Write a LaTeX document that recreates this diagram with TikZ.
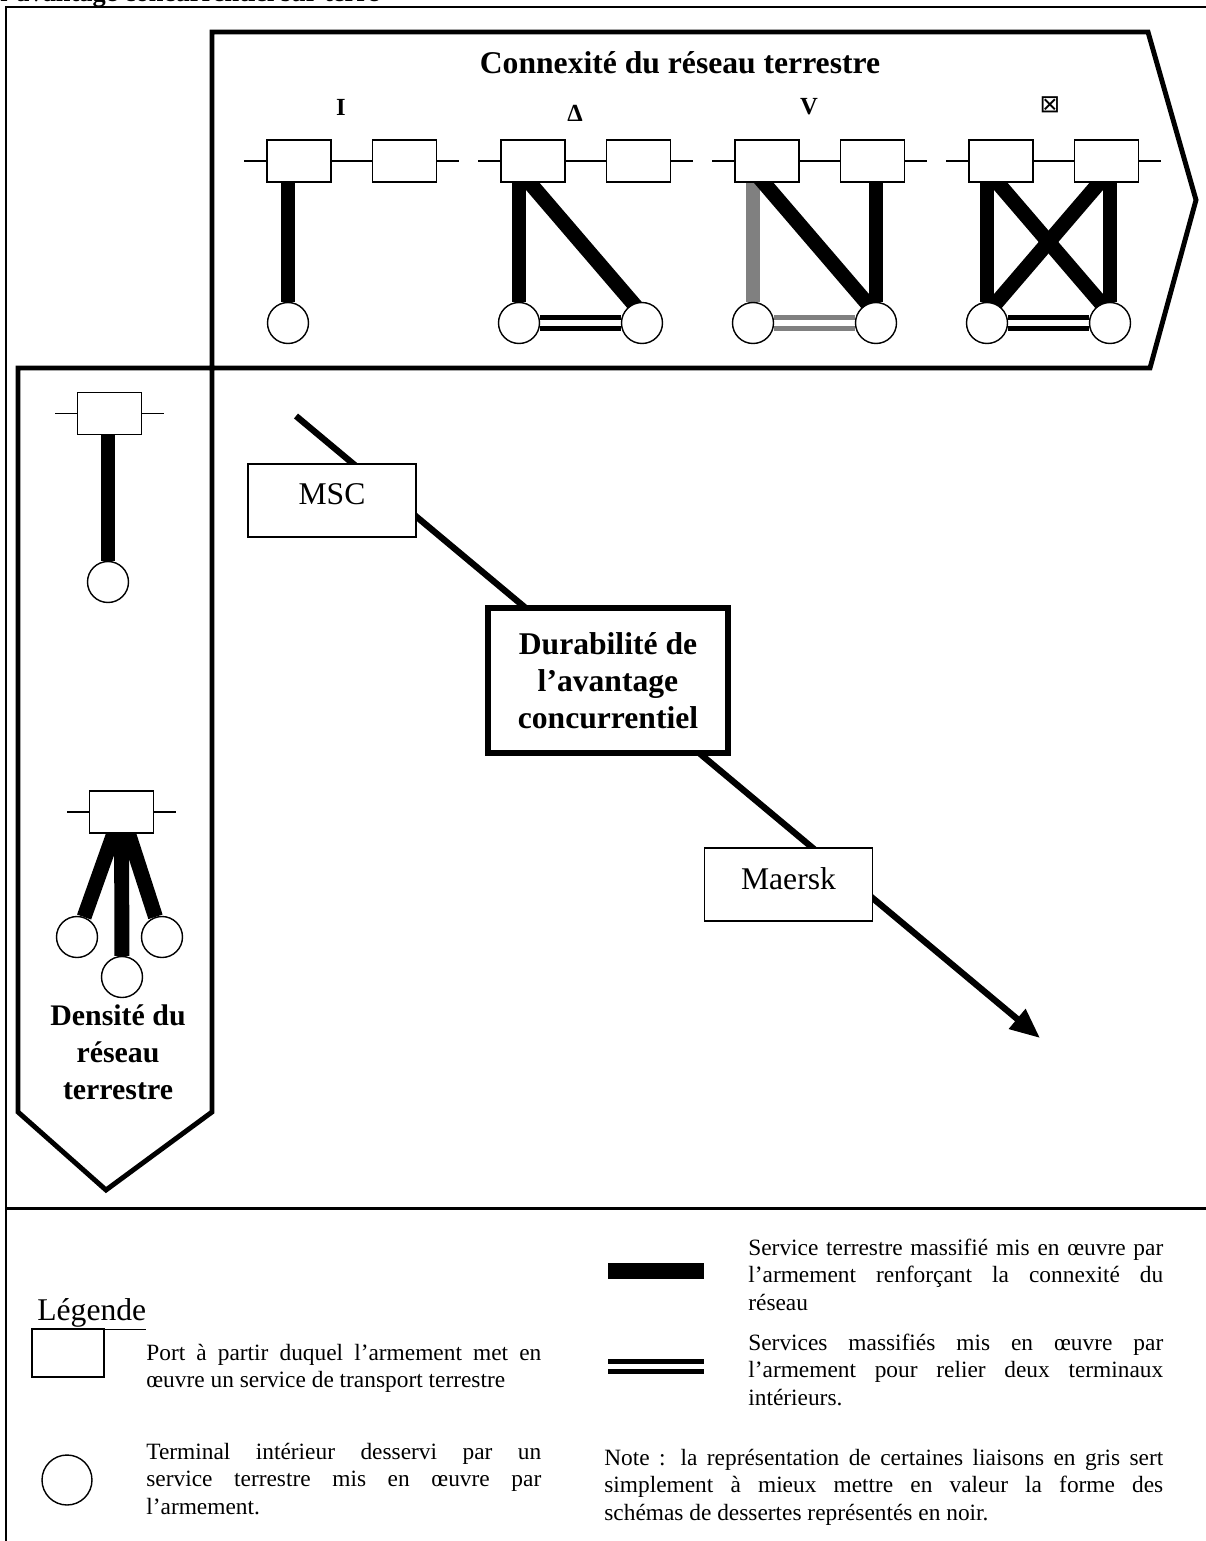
\documentclass[tikz,border=0pt]{standalone}
\usepackage{fontspec}
\setmainfont{Liberation Serif}
\newfontfamily\symbfont{DejaVu Sans}
\usepackage{tikz}
\usetikzlibrary{arrows.meta,positioning,backgrounds,calc}
\definecolor{linkgrey}{RGB}{128,128,128}
\hyphenpenalty=10000

\tikzset{
  port/.style={draw, fill=white, line width=0.8pt, minimum width=1.28cm, minimum height=0.84cm, inner sep=0pt},
  term/.style={circle, draw, fill=white, line width=0.8pt, minimum size=0.82cm, inner sep=0pt},
  rail/.style={line width=0.8pt},
  service/.style={line width=8.5pt},
  link/.style={line width=2.6pt, double=white, double distance=3.4pt},
  banner/.style={line width=2.8pt, line join=miter},
  carrier/.style={draw, fill=white, line width=0.8pt, minimum width=3.36cm, minimum height=1.46cm, inner sep=0pt, text depth=7pt, font=\fontsize{18}{21}\selectfont},
  shape label/.style={font=\bfseries\fontsize{14}{17}\selectfont},
  note/.style={anchor=north west, inner sep=0pt, align=justify, font=\fontsize{13.3}{15.6}\selectfont},
}

\begin{document}
\begin{tikzpicture}[x=0.02cm, y=-0.02cm]
\useasboundingbox (0,0) rectangle (1206,1541);
% caption line, cut at the top of the page
\node[anchor=base west, inner sep=0pt, font=\bfseries\fontsize{15}{18}\selectfont] (caption) at (0,2) {l’avantage concurrentiel sur terre};
% outer frame
\draw[line width=0.9pt] (1206,7) -- (6,7) -- (6,1541);
\draw[line width=1.7pt] (6,1208) -- (1206,1208);
% the two banners
\draw[banner] (212,32) -- (1148,32) -- (1196,200) -- (1150,368) -- (18,368) -- (18,1112) -- (106,1190) -- (212,1112) -- cycle;

% connexity banner
\node[font=\bfseries\fontsize{18}{21}\selectfont] (conn) at (680,63) {Connexité du réseau terrestre};
\node[shape label] (lI) at (341,107) {I};
\node[shape label] (lD) at (575,113) {Δ};
\node[shape label] (lV) at (809,107) {V};
\node[font=\symbfont\fontsize{14}{17}\selectfont] (lX) at (1050,105) {⊠};
\foreach \g/\o in {1/0,2/234,3/468,4/702} {
  \node[port] (pa\g) at (299+\o,161) {};
  \node[port] (pb\g) at (404.5+\o,161) {};
  \draw[rail] (pa\g.west) -- ++(-22,0);
  \draw[rail] (pa\g.east) -- (pb\g.west);
  \draw[rail] (pb\g.east) -- ++(22,0);
}
\node[term] (ta1) at (288,323) {};
\foreach \g/\o in {2/234,3/468,4/702} {
  \node[term] (ta\g) at (285+\o,323) {};
  \node[term] (tb\g) at (408+\o,323) {};
}

% density banner
\node[port] (pa5) at (109.5,413.5) {};
\draw[rail] (pa5.west) -- ++(-22,0);
\draw[rail] (pa5.east) -- ++(22,0);
\node[term] (ta5) at (108,582) {};
\node[port] (pa6) at (121.5,812) {};
\draw[rail] (pa6.west) -- ++(-22,0);
\draw[rail] (pa6.east) -- ++(22,0);
\node[term] (ta6) at (77,937) {};
\node[term] (tb6) at (122,977) {};
\node[term] (tc6) at (162,937) {};
\node[align=center, font=\bfseries\fontsize{17}{21}\selectfont] (dens) at (118,1052) {Densité du\\réseau\\terrestre};

% carriers along the advantage axis
\coordinate (adv) at (296,416);
\coordinate (advend) at (1040,1038);
\node[carrier] (msc) at (332,500.5) {MSC};
\node[draw, fill=white, line width=3.4pt, minimum width=4.8cm, minimum height=2.9cm, align=center, font=\bfseries\fontsize{18}{21}\selectfont] (durab) at (608,680.5) {Durabilité de\\l’avantage\\concurrentiel};
\node[carrier] (maersk) at (788.5,884.5) {Maersk};

\begin{scope}[on background layer]
  \draw[line width=3.6pt, -{Triangle[length=17pt,width=14pt]}] (adv) -- (advend);
  % I
  \draw[service] (ta1 |- pa1) -- (ta1);
  % Delta
  \draw[service] (ta2 |- pa2) -- (ta2);
  \draw[service] ($(ta2 |- pa2)+(-8,0)$) -- ($(tb2)+(8,0)$);
  \draw[link] (ta2) -- (tb2);
  % V
  \draw[service, linkgrey] (ta3 |- pa3) -- (ta3);
  \draw[service] ($(ta3 |- pa3)+(-8,0)$) -- ($(tb3)+(8,0)$);
  \draw[service] (tb3 |- pb3) -- (tb3);
  \draw[link, draw=linkgrey] (ta3) -- (tb3);
  % crossed square
  \draw[service] (ta4 |- pa4) -- (ta4);
  \draw[service] (tb4 |- pb4) -- (tb4);
  \draw[service] ($(ta4 |- pa4)+(-8,0)$) -- ($(tb4)+(8,0)$);
  \draw[service] ($(tb4 |- pb4)+(8,0)$) -- ($(ta4)+(-8,0)$);
  \draw[link] (ta4) -- (tb4);
  % density
  \draw[service] (ta5 |- pa5) -- (ta5);
  \draw[service] (pa6) -- (ta6);
  \draw[service] (pa6) -- (tb6);
  \draw[service] (pa6) -- (tc6);
\end{scope}

% legend
\node[anchor=base west, inner sep=0pt, font=\fontsize{18}{21}\selectfont] (leg) at (37,1320) {\underline{Légende}};
\node[port, minimum width=1.44cm, minimum height=0.96cm, line width=1.2pt] (kport) at (68,1353) {};
\node[note, text width=7.9cm] (kporttxt) at (146,1343.6) {Port à partir duquel l’armement met en\linebreak œuvre un service de transport terrestre};
\node[term, minimum size=1cm] (kterm) at (67,1480) {};
\node[note, text width=7.9cm] (ktermtxt) at (146,1442.6) {Terminal intérieur desservi par un\linebreak service terrestre mis en œuvre par\linebreak l’armement.};
\draw[service, line width=9pt] (608,1271) -- (704,1271);
\draw[link, line width=2.8pt, double distance=2.8pt] (608,1366.5) -- (704,1366.5);
\node[note, text width=8.3cm] (kserv) at (748,1238.6) {Service terrestre massifié mis en œuvre par\linebreak l’armement renforçant la connexité du\linebreak réseau};
\node[note, text width=8.3cm] (klink) at (748,1333.6) {Services massifiés mis en œuvre par\linebreak l’armement pour relier deux terminaux\linebreak intérieurs.};
\node[note, text width=11.18cm] (knote) at (604,1448.6) {Note : la représentation de certaines liaisons en gris sert\linebreak simplement à mieux mettre en valeur la forme des\linebreak schémas de dessertes représentés en noir.};
\end{tikzpicture}
\end{document}
